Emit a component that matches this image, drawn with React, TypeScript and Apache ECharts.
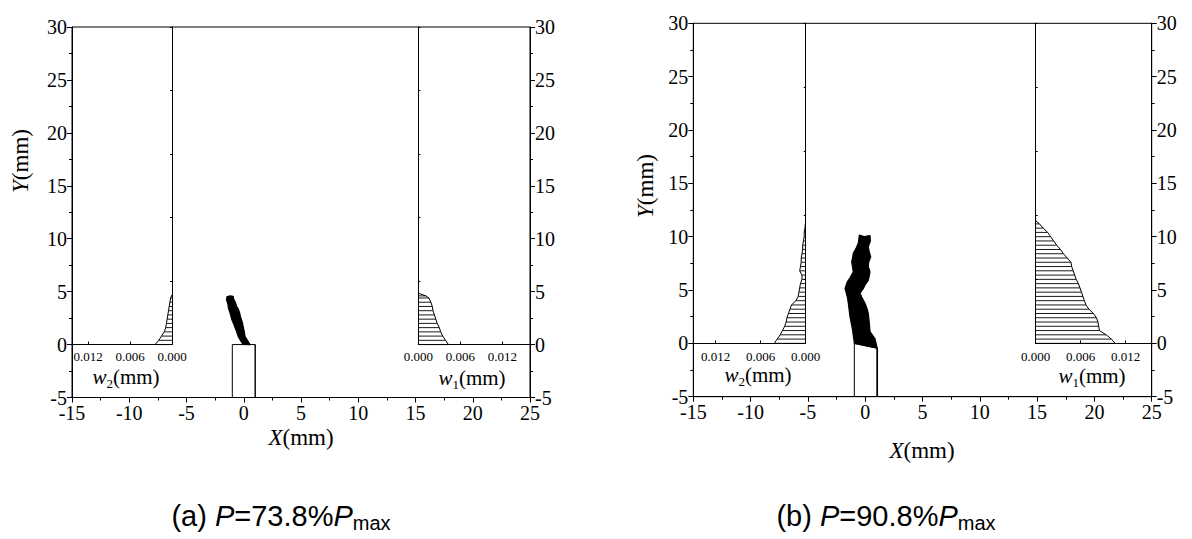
import React, { useEffect, useRef } from 'react';
import * as echarts from 'echarts';

// ---------- axis ranges / ticks ----------
const xMin = -15;
const xMax = 25;
const xStep = 5;
const yMin = -5;
const yMax = 30;
const yStep = 5;
const wStep = 0.006;

// ---------- panel (a): P = 73.8% Pmax ----------
const aCaption = ['(a) ', 'P', '=73.8%', 'P', 'max'];
const aNotchX = [-1, -1, 1, 1];
const aNotchY = [-5, 0, 0, -5];
const aCrackX = [0.55, 0.35, 0.12, 0.05, -0.05, -0.12, -0.28, -0.36, -0.5, -0.62, -0.72, -0.88, -0.92, -1.2, -1.47, -1.5, -1.38, -1.33, -1.2, -1.1, -1.02, -0.88, -0.76, -0.62, -0.48, -0.32, -0.15, -0.04];
const aCrackY = [0.0, 0.35, 0.75, 1.2, 1.7, 2.1, 2.6, 3.0, 3.4, 3.6, 3.95, 4.3, 4.55, 4.6, 4.5, 4.2, 3.8, 3.4, 3.0, 2.6, 2.3, 1.95, 1.6, 1.2, 0.75, 0.45, 0.15, 0.02];
const aW2Y = [0, 0.4, 0.8, 1.2, 1.6, 2.0, 2.4, 2.8, 3.2, 3.6, 4.0, 4.4, 4.7];
const aW2 = [0.0024, 0.0019, 0.0015, 0.0011, 0.0009, 0.0008, 0.0007, 0.0006, 0.0005, 0.0004, 0.0003, 0.0002, 0];
const aW1Y = [0, 0.4, 0.8, 1.2, 1.6, 2.0, 2.4, 2.8, 3.2, 3.6, 4.0, 4.4, 4.6, 4.85];
const aW1 = [0.0043, 0.0039, 0.0035, 0.0032, 0.003, 0.0027, 0.0025, 0.0023, 0.0021, 0.002, 0.0018, 0.0015, 0.0011, 0];

// ---------- panel (b): P = 90.8% Pmax ----------
const bCaption = ['(b) ', 'P', '=90.8%', 'P', 'max'];
const bNotchX = [-0.95, -0.95, 1.05, 1.05];
const bNotchY = [-5, 0, -0.45, -5];
const bCrackX = [-0.95, -0.97, -1.05, -1.1, -1.2, -1.33, -1.4, -1.47, -1.55, -1.76, -1.65, -1.55, -1.3, -1.04, -1.1, -1.18, -1.1, -1.04, -0.8, -0.6, -0.55, -0.51, -0.1, 0.42, 0.45, 0.27, 0.35, 0.48, 0.3, 0.27, 0.42, 0.35, 0.27, 0.0, -0.16, -0.45, -0.31, -0.02, 0.15, 0.27, 0.33, 0.42, 0.85, 1.05];
const bCrackY = [0, 0.2, 0.8, 1.25, 1.8, 2.5, 3.1, 3.75, 4.3, 5.15, 5.5, 5.8, 6.2, 6.7, 7.1, 7.65, 8.0, 8.45, 8.9, 9.4, 9.8, 10.15, 10.0, 10.1, 9.6, 9.05, 8.6, 8.1, 7.6, 7.2, 6.7, 6.3, 5.9, 5.5, 5.15, 4.7, 4.35, 3.75, 3.3, 2.8, 2.2, 1.1, 0.45, -0.45];
const bW2Y = [0, 0.4, 0.8, 1.2, 1.6, 2.0, 2.4, 2.8, 3.2, 3.6, 4.0, 4.4, 4.8, 5.2, 5.6, 6.0, 6.4, 6.8, 7.2, 7.6, 8.0, 8.4, 8.8, 9.2, 9.6, 10.0, 10.4, 10.8, 11.2, 11.4];
const bW2 = [0.0042, 0.0038, 0.0034, 0.0031, 0.0028, 0.0026, 0.0025, 0.0023, 0.0021, 0.0019, 0.0013, 0.001, 0.0009, 0.0008, 0.0007, 0.0005, 0.0005, 0.0008, 0.0007, 0.0006, 0.0006, 0.0005, 0.0004, 0.0004, 0.0003, 0.0002, 0.0002, 0.0001, 0.00005, 0];
const bW1Y = [0, 0.4, 0.8, 1.2, 1.6, 2.0, 2.4, 2.8, 3.2, 3.6, 4.0, 4.4, 4.8, 5.2, 5.6, 6.0, 6.4, 6.8, 7.2, 7.6, 8.0, 8.4, 8.8, 9.2, 9.6, 10.0, 10.4, 10.8, 11.2, 11.5];
const bW1 = [0.0106, 0.0101, 0.0094, 0.0085, 0.0084, 0.0083, 0.0081, 0.0077, 0.0071, 0.0067, 0.0065, 0.0063, 0.0061, 0.0059, 0.0057, 0.0054, 0.0052, 0.005, 0.0048, 0.0047, 0.0042, 0.0037, 0.0033, 0.0028, 0.0024, 0.002, 0.0016, 0.001, 0.0005, 0];

const SERIF = '"Liberation Serif", "Times New Roman", serif';
const SANS = '"Liberation Sans", Arial, sans-serif';

type Box = { left: number; top: number; width: number; height: number };
type Inset = { left: number; width: number; max: number };
type Panel = {
  main: Box;
  box2: Inset;
  box1: Inset;
  notchX: number[]; notchY: number[]; notchW: number;
  crackX: number[]; crackY: number[];
  w2Y: number[]; w2: number[]; w1Y: number[]; w1: number[];
  wLabelMargin: number;
};

const panels: Panel[] = [
  {
    main: { left: 72, top: 27, width: 458, height: 370.5 },
    box2: { left: 72, width: 100, max: 100 / 7000 },
    box1: { left: 418.3, width: 111.7, max: 111.7 / 7000 },
    notchX: aNotchX, notchY: aNotchY, notchW: 1,
    crackX: aCrackX, crackY: aCrackY,
    w2Y: aW2Y, w2: aW2, w1Y: aW1Y, w1: aW1,
    wLabelMargin: 5,
  },
  {
    main: { left: 693.3, top: 23.3, width: 458.4, height: 373.4 },
    box2: { left: 693.3, width: 112.4, max: 112.4 / 7500 },
    box1: { left: 1035.7, width: 116, max: 116 / 7500 },
    notchX: bNotchX, notchY: bNotchY, notchW: 1.6,
    crackX: bCrackX, crackY: bCrackY,
    w2Y: bW2Y, w2: bW2, w1Y: bW1Y, w1: bW1,
    wLabelMargin: 7,
  },
];

const black = '#000';

function mainAxisCommon() {
  return {
    type: 'value',
    axisLine: { show: true, onZero: false, lineStyle: { color: black, width: 1 } },
    axisTick: { show: true, inside: false, length: 5, lineStyle: { color: black } },
    minorTick: { show: true, splitNumber: 2, length: 3, lineStyle: { color: black } },
    axisLabel: { color: black, fontSize: 20, fontFamily: SERIF, margin: 5 },
    splitLine: { show: false },
    minorSplitLine: { show: false },
  };
}

const isStep = (v: number) => Math.abs(v / wStep - Math.round(v / wStep)) < 1e-6;

function buildOption() {
  const grid: any[] = [];
  const xAxis: any[] = [];
  const yAxis: any[] = [];
  const series: any[] = [];

  panels.forEach((p, pi) => {
    const gBase = pi * 3;
    const xBase = pi * 3;
    const yBase = pi * 4;
    const insetH = (p.main.height * (yMax - 0)) / (yMax - yMin);
    grid.push({ ...p.main, show: true, borderColor: black, borderWidth: 1 });
    grid.push({ left: p.box2.left, width: p.box2.width, top: p.main.top, height: insetH });
    grid.push({ left: p.box1.left, width: p.box1.width, top: p.main.top, height: insetH });

    xAxis.push({ ...mainAxisCommon(), gridIndex: gBase, min: xMin, max: xMax, interval: xStep });
    const wAxis = (gi: number, wmax: number, inverse: boolean) => ({
      type: 'value', gridIndex: gi, min: 0, max: wmax, interval: wStep, inverse,
      axisLine: { show: true, onZero: false, lineStyle: { color: black, width: 1 } },
      axisTick: { show: true, inside: true, length: 3, lineStyle: { color: black } },
      axisLabel: {
        color: black, fontSize: 13, fontFamily: SERIF, margin: p.wLabelMargin,
        showMaxLabel: false,
        formatter: (v: number) => (isStep(v) ? v.toFixed(3) : ''),
      },
      splitLine: { show: false },
    });
    xAxis.push(wAxis(gBase + 1, p.box2.max, true));
    xAxis.push(wAxis(gBase + 2, p.box1.max, false));

    yAxis.push({ ...mainAxisCommon(), gridIndex: gBase, min: yMin, max: yMax, interval: yStep, position: 'left' });
    yAxis.push({ ...mainAxisCommon(), gridIndex: gBase, min: yMin, max: yMax, interval: yStep, position: 'right' });
    const insetY = (gi: number, pos: string) => ({
      type: 'value', gridIndex: gi, min: 0, max: yMax, interval: 6, position: pos,
      axisLine: { show: true, onZero: false, lineStyle: { color: black, width: 1 } },
      axisTick: { show: true, inside: true, length: 2, lineStyle: { color: black } },
      axisLabel: { show: false },
      splitLine: { show: false },
    });
    yAxis.push(insetY(gBase + 1, 'right'));
    yAxis.push(insetY(gBase + 2, 'left'));

    // notch
    series.push({
      type: 'custom', coordinateSystem: 'cartesian2d', xAxisIndex: xBase, yAxisIndex: yBase,
      data: p.notchX.map((x, i) => [x, p.notchY[i]]), encode: { x: 0, y: 1 }, silent: true,
      renderItem: (params: any, api: any) => {
        if (params.dataIndex !== 0) return null;
        const pts = p.notchX.map((x, i) => api.coord([x, p.notchY[i]]));
        return { type: 'polyline', shape: { points: pts }, style: { stroke: black, lineWidth: 1, fill: null } };
      },
    });
    // right edge of notch (thicker in b)
    series.push({
      type: 'custom', coordinateSystem: 'cartesian2d', xAxisIndex: xBase, yAxisIndex: yBase,
      data: [[p.notchX[2], p.notchY[2]], [p.notchX[3], p.notchY[3]]], encode: { x: 0, y: 1 }, silent: true,
      renderItem: (params: any, api: any) => {
        if (params.dataIndex !== 0) return null;
        const a = api.coord([p.notchX[2], p.notchY[2]]);
        const b = api.coord([p.notchX[3], p.notchY[3]]);
        return { type: 'line', shape: { x1: a[0], y1: a[1], x2: b[0], y2: b[1] }, style: { stroke: black, lineWidth: p.notchW } };
      },
    });
    // crack
    series.push({
      type: 'custom', coordinateSystem: 'cartesian2d', xAxisIndex: xBase, yAxisIndex: yBase,
      data: p.crackX.map((x, i) => [x, p.crackY[i]]), encode: { x: 0, y: 1 }, silent: true,
      renderItem: (params: any, api: any) => {
        if (params.dataIndex !== 0) return null;
        const pts = p.crackX.map((x, i) => api.coord([x, p.crackY[i]]));
        return { type: 'polygon', shape: { points: pts }, style: { fill: black, stroke: black, lineWidth: 1.2, lineJoin: 'round' } };
      },
    });

    const hatch = (xi: number, yi: number, ws: number[], ys: number[]) => ({
      type: 'custom', coordinateSystem: 'cartesian2d', xAxisIndex: xi, yAxisIndex: yi,
      data: ws.map((w, i) => [w, ys[i]]), encode: { x: 0, y: 1 }, silent: true,
      renderItem: (params: any, api: any) => {
        const w = api.value(0);
        const y = api.value(1);
        const a = api.coord([0, y]);
        const b = api.coord([w, y]);
        return { type: 'line', shape: { x1: a[0], y1: a[1], x2: b[0], y2: b[1] }, style: { stroke: black, lineWidth: 0.9 } };
      },
    });
    const profile = (xi: number, yi: number, ws: number[], ys: number[]) => ({
      type: 'line', xAxisIndex: xi, yAxisIndex: yi,
      data: ws.map((w, i) => [w, ys[i]]),
      showSymbol: false, symbol: 'none', silent: true,
      lineStyle: { color: black, width: 1 }, itemStyle: { color: black },
    });
    series.push(hatch(xBase + 1, yBase + 2, p.w2, p.w2Y));
    series.push(profile(xBase + 1, yBase + 2, p.w2, p.w2Y));
    series.push(hatch(xBase + 2, yBase + 3, p.w1, p.w1Y));
    series.push(profile(xBase + 2, yBase + 3, p.w1, p.w1Y));
  });

  const serifRich = (size: number) => ({
    n: { fontFamily: SERIF, fontSize: size, lineHeight: size + 4, fill: black, verticalAlign: 'middle' },
    i: { fontFamily: SERIF, fontSize: size, fontStyle: 'italic', lineHeight: size + 4, fill: black, verticalAlign: 'middle' },
    s: { fontFamily: SERIF, fontSize: Math.round(size * 0.62), lineHeight: Math.round(size * 0.62), fill: black, verticalAlign: 'bottom' },
  });
  const sansRich = (size: number) => ({
    n: { fontFamily: SANS, fontSize: size, lineHeight: size + 4, fill: black, verticalAlign: 'middle' },
    i: { fontFamily: SANS, fontSize: size, fontStyle: 'italic', lineHeight: size + 4, fill: black, verticalAlign: 'middle' },
    s: { fontFamily: SANS, fontSize: Math.round(size * 0.68), lineHeight: Math.round(size * 0.68), fill: black, verticalAlign: 'bottom' },
  });
  const txt = (x: number, y: number, text: string, rich: any, rotation = 0) => ({
    type: 'text', x, y, rotation, silent: true,
    style: { text, rich, align: 'center', verticalAlign: 'middle', fill: black },
  });
  const caption = (c: string[]) => `{n|${c[0]}}{i|${c[1]}}{n|${c[2]}}{i|${c[3]}}{s|${c[4]}}`;

  const graphic = [
    txt(20, 161, '{i|Y}{n|(mm)}', serifRich(23), Math.PI / 2),
    txt(301, 437, '{i|X}{n|(mm)}', serifRich(23)),
    txt(126, 377, '{i|w}{s|2}{n|(mm)}', serifRich(21)),
    txt(472, 378, '{i|w}{s|1}{n|(mm)}', serifRich(21)),
    txt(281, 516, caption(aCaption), sansRich(29)),
    txt(645, 186, '{i|Y}{n|(mm)}', serifRich(23), Math.PI / 2),
    txt(922, 450, '{i|X}{n|(mm)}', serifRich(23)),
    txt(758, 375, '{i|w}{s|2}{n|(mm)}', serifRich(21)),
    txt(1092, 376, '{i|w}{s|1}{n|(mm)}', serifRich(21)),
    txt(886, 516, caption(bCaption), sansRich(29)),
  ];

  return {
    animation: false,
    backgroundColor: '#fff',
    grid, xAxis, yAxis, series, graphic,
  };
}

export default function App() {
  const ref = useRef<HTMLDivElement>(null);
  useEffect(() => {
    if (!ref.current) return;
    const chart = echarts.init(ref.current, undefined, { renderer: 'svg' });
    chart.setOption(buildOption() as any);
    return () => chart.dispose();
  }, []);
  return (
    <div
      ref={ref}
      style={{ position: 'absolute', left: 0, top: 0, width: 1192, height: 539, background: '#fff' }}
    />
  );
}
